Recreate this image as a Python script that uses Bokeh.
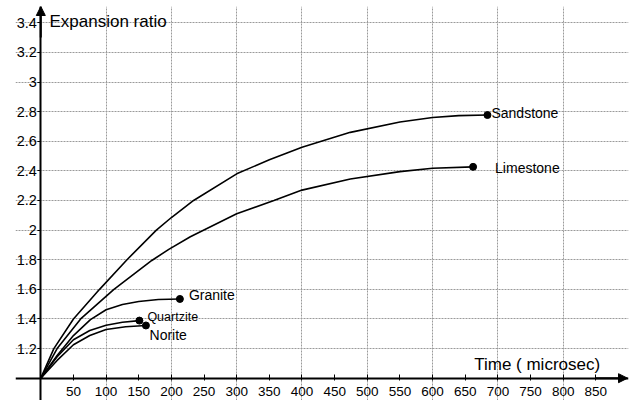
from bokeh.plotting import figure
from bokeh.models import (FixedTicker, Range1d, Arrow, NormalHead, Label,
                          CustomJSTickFormatter)
from bokeh.embed import file_html
from bokeh.resources import INLINE

# ---- data ----
x_ticks = [50, 100, 150, 200, 250, 300, 350, 400, 450, 500, 550, 600, 650, 700, 750, 800, 850]
y_ticks = [1.2, 1.4, 1.6, 1.8, 2, 2.2, 2.4, 2.6, 2.8, 3, 3.2, 3.4]
x_grid = [100, 200, 300, 400, 500, 600, 700, 800]

sand_t = [0, 20, 50, 90, 132, 177, 200, 234, 300, 350, 400, 474, 550, 600, 640, 684]
sand_y = [1.0, 1.2, 1.4, 1.6, 1.8, 2.0, 2.085, 2.2, 2.38, 2.475, 2.56, 2.66, 2.73, 2.76, 2.773, 2.777]

lime_t = [0, 25, 61, 112, 170, 196, 229, 300, 357, 400, 474, 550, 600, 662]
lime_y = [1.0, 1.2, 1.4, 1.6, 1.795, 1.87, 1.955, 2.11, 2.2, 2.27, 2.345, 2.395, 2.418, 2.427]

gran_t = [0, 25, 50, 76, 100, 125, 150, 180, 213]
gran_y = [1.0, 1.153, 1.288, 1.395, 1.462, 1.498, 1.518, 1.531, 1.535]

quar_t = [0, 25, 50, 75, 100, 125, 151]
quar_y = [1.0, 1.145, 1.26, 1.322, 1.358, 1.378, 1.389]

nori_t = [0, 25, 50, 75, 100, 130, 161]
nori_y = [1.0, 1.12, 1.226, 1.288, 1.329, 1.347, 1.356]

series_names = ["Sandstone", "Limestone", "Granite", "Quartzite", "Norite"]

x_title = "Time (  microsec)"
y_title = "Expansion ratio"

FONT = "Liberation Sans"

p = figure(width=637, height=400,
           x_range=Range1d(-38.74, 900.0), y_range=Range1d(0.8494, 3.5098),
           output_backend="svg", toolbar_location=None,
           min_border_left=15, min_border_right=9,
           min_border_top=6, min_border_bottom=0)
p.outline_line_color = None
p.background_fill_color = "white"
p.border_fill_color = "white"

# grid
p.xgrid.ticker = FixedTicker(ticks=x_grid)
p.ygrid.ticker = FixedTicker(ticks=y_ticks)
for g in (p.xgrid, p.ygrid):
    g.grid_line_color = "#9a9a9a"
    g.grid_line_dash = "2 1"
    g.grid_line_width = 1

# axes crossing at (0, 1)
xa = p.xaxis[0]
ya = p.yaxis[0]
xa.fixed_location = 1.0
ya.fixed_location = 0
xa.ticker = FixedTicker(ticks=x_ticks)
ya.ticker = FixedTicker(ticks=y_ticks)
ya.formatter = CustomJSTickFormatter(code="return String(tick);")
for ax in (xa, ya):
    ax.axis_line_width = 2
    ax.axis_line_color = "black"
    ax.major_tick_line_color = "black"
    ax.minor_tick_line_color = None
    ax.major_label_text_font = FONT
    ax.major_label_text_color = "black"
xa.major_label_text_font_size = "13.5px"
ya.major_label_text_font_size = "14.5px"
xa.major_tick_in = 4
xa.major_tick_out = 2
xa.major_label_standoff = 7
ya.major_tick_in = 0
ya.major_tick_out = 3
ya.major_label_standoff = 1

# arrow heads
p.add_layout(Arrow(end=NormalHead(size=9, fill_color="black", line_color="black"),
                   x_start=0, y_start=3.3, x_end=0, y_end=3.5098,
                   line_width=2, line_color="black"))
p.add_layout(Arrow(end=NormalHead(size=9, fill_color="black", line_color="black"),
                   x_start=850, y_start=1.0, x_end=898.5, y_end=1.0,
                   line_width=2, line_color="black"))

# curves
all_t = [sand_t, lime_t, gran_t, quar_t, nori_t]
all_y = [sand_y, lime_y, gran_y, quar_y, nori_y]
for t, y in zip(all_t, all_y):
    p.line(t, y, line_color="black", line_width=1.6)
p.scatter([t[-1] for t in all_t], [y[-1] for y in all_y], size=7,
          fill_color="black", line_color="black")

# series labels (offset from end points, screen px)
offsets = [(4, 1.8, "14px"), (22, -0.8, "14px"), (9, 3.8, "14px"),
           (8, 3.3, "12.5px"), (3.6, -9.5, "14px")]
for name, t, y, (dx, dy, fs) in zip(series_names, all_t, all_y, offsets):
    p.add_layout(Label(x=t[-1], y=y[-1], x_offset=dx, y_offset=dy, text=name,
                       text_font=FONT, text_font_size=fs, text_color="black",
                       text_baseline="alphabetic", text_align="left"))

# axis titles
p.add_layout(Label(x=13.3, y=3.408, text=y_title, text_font=FONT,
                   text_font_size="17px", text_color="black",
                   text_baseline="alphabetic", text_align="left"))
p.add_layout(Label(x=663.7, y=1.094, text=x_title, text_font=FONT,
                   text_font_size="17px", text_color="black",
                   text_baseline="alphabetic", text_align="left"))

open("out.html", "w").write(file_html(p, INLINE))
